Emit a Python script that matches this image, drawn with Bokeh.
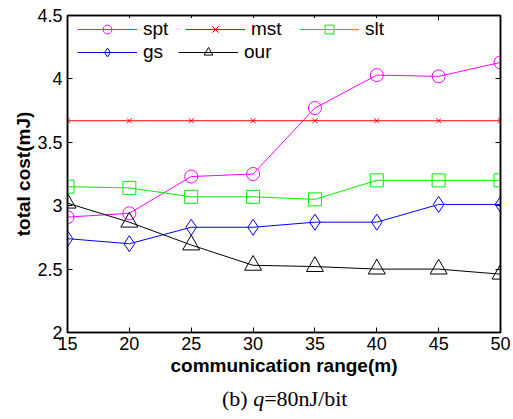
from bokeh.plotting import figure
from bokeh.layouts import column
from bokeh.models import (Range1d, LinearAxis, FixedTicker, CustomJSTickFormatter,
                          Legend, LegendItem, Div)
from bokeh.embed import file_html
from bokeh.resources import INLINE

# communication range (m)
ranges = [15, 20, 25, 30, 35, 40, 45, 50]

# total cost (mJ) per algorithm
spt = [2.91, 2.94, 3.23, 3.25, 3.77, 4.03, 4.02, 4.13]
mst = [3.67, 3.67, 3.67, 3.67, 3.67, 3.67, 3.67, 3.67]
slt = [3.15, 3.14, 3.07, 3.07, 3.05, 3.20, 3.20, 3.20]
gs = [2.74, 2.70, 2.83, 2.83, 2.87, 2.87, 3.01, 3.01]
our = [3.02, 2.87, 2.69, 2.53, 2.52, 2.50, 2.50, 2.46]

x_ticks = [15, 20, 25, 30, 35, 40, 45, 50]
y_ticks = [2, 2.5, 3, 3.5, 4, 4.5]

FONT = "Liberation Sans"
SERIF = "Liberation Serif"

p = figure(width=513, height=385, output_backend="svg", toolbar_location=None,
           x_range=Range1d(15, 50), y_range=Range1d(2, 4.5),
           min_border_left=67, min_border_right=13, min_border_top=15,
           min_border_bottom=53, x_axis_location=None, y_axis_location=None)
p.grid.visible = False
p.outline_line_color = "black"
p.outline_line_width = 1.5
p.background_fill_color = "white"
p.border_fill_color = "white"
p.margin = 0

fmt = CustomJSTickFormatter(code="return tick.toString();")


def style_axis(ax, labels=True):
    ax.axis_line_color = "black"
    ax.axis_line_width = 1.5
    ax.major_tick_in = 5
    ax.major_tick_out = 0
    ax.minor_tick_line_color = None
    ax.major_tick_line_color = "black"
    ax.major_tick_line_width = 1
    ax.formatter = fmt
    if labels:
        ax.major_label_text_font = FONT
        ax.major_label_text_font_size = "18px"
        ax.major_label_text_color = "black"
        ax.axis_label_text_font = FONT
        ax.axis_label_text_font_size = "19px"
        ax.axis_label_text_font_style = "bold"
        ax.axis_label_text_color = "black"
    else:
        ax.major_label_text_font_size = "0px"
        ax.major_label_text_alpha = 0


bottom = LinearAxis(ticker=FixedTicker(ticks=x_ticks), axis_label="communication range(m)")
style_axis(bottom)
bottom.major_label_standoff = 4
bottom.axis_label_standoff = 2
left = LinearAxis(ticker=FixedTicker(ticks=y_ticks), axis_label="total cost(mJ)")
style_axis(left)
left.major_label_standoff = 5
left.axis_label_standoff = 0
top = LinearAxis(ticker=FixedTicker(ticks=x_ticks))
style_axis(top, labels=False)
right = LinearAxis(ticker=FixedTicker(ticks=y_ticks))
style_axis(right, labels=False)
p.add_layout(bottom, "below")
p.add_layout(left, "left")
p.add_layout(top, "above")
p.add_layout(right, "right")

# an empty renderer first keeps the svg drawing state clean for the series
p.line(ranges, mst, line_alpha=0)

series = [
    ("spt", spt, "#ff00ff", "circle", 13),
    ("mst", mst, "#ff0000", "x", 7),
    ("slt", slt, "#00ee00", "square", 13),
    ("gs", gs, "#0000ff", "diamond", 16),
    ("our", our, "#000000", "triangle", 17),
]

items = {}
for name, ys, color, marker, size in series:
    ln = p.line(ranges, ys, line_color=color, line_width=1)
    sc = p.scatter(ranges, ys, marker=marker, size=size, line_color=color,
                   fill_color=None, line_width=1)
    items[name] = LegendItem(label=name, renderers=[ln, sc])


# one legend box per entry, laid out in two rows inside the frame
def add_entry(name, loc):
    lg = Legend(items=[items[name]], location=loc,
                orientation="horizontal", padding=0, margin=0, spacing=0,
                glyph_width=60, glyph_height=22, label_height=22,
                label_standoff=6, label_text_font=FONT,
                label_text_font_size="19px", label_text_color="black",
                border_line_alpha=0, background_fill_color="white",
                background_fill_alpha=1)
    p.add_layout(lg, "center")


add_entry("spt", (10, 292))
add_entry("mst", (118, 292))
add_entry("slt", (232, 292))
add_entry("gs", (10, 269))
add_entry("our", (111, 269))

# caption under the chart
caption = Div(text="(b) <i>q</i>=80nJ/bit", width=513, height=34, margin=0,
              styles={"font-family": SERIF, "font-size": "22px",
                      "line-height": "25px", "padding-top": "1px",
                      "padding-left": "222px", "color": "black",
                      "box-sizing": "border-box", "background": "white"})

layout = column(p, caption, spacing=0, margin=0)
open("out.html", "w").write(file_html(layout, INLINE))
